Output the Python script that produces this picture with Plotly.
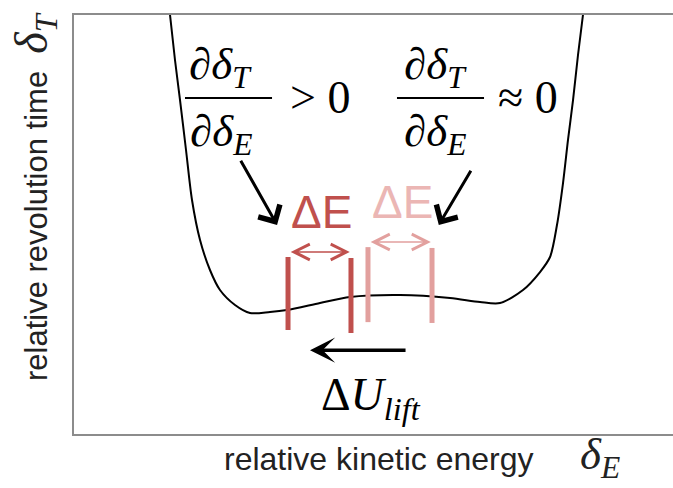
import plotly.graph_objects as go

# Curve: relative kinetic energy vs relative revolution time (arbitrary units 0-100)
curve_x = [16.03, 16.86, 17.70, 18.70, 19.70, 21.04, 22.70, 24.37, 26.88, 29.38, 32.72,
           35.56, 41.07, 46.08, 54.42, 62.77, 67.78, 71.12, 74.96, 77.80, 79.47, 80.63,
           81.64, 82.47, 83.31, 84.14, 84.97]
curve_y = [100.0, 89.26, 79.71, 67.78, 55.85, 46.30, 39.14, 34.37, 30.79, 28.88, 29.12,
           29.59, 31.26, 32.70, 33.17, 32.46, 31.50, 31.26, 34.37, 38.66, 42.24, 49.88,
           59.90, 70.17, 79.71, 90.45, 100.0]

# Energy window markers (dark = before lift, light = after)
dark_bar_x = [35.73, 46.24]
dark_bar_y0 = [24.82, 24.10]
dark_bar_y1 = [42.24, 42.00]
light_bar_x = [49.08, 59.77]
light_bar_y0 = [26.70, 26.50]
light_bar_y1 = [44.60, 44.40]

DARK = "#c0504d"
LIGHT = "#e2a09e"
LIGHT_TXT = "#ebb6b4"
SERIF = "Liberation Serif, Times New Roman, serif"
SANS = "Liberation Sans, Arial, sans-serif"

fig = go.Figure()

fig.add_trace(go.Scatter(x=curve_x, y=curve_y, mode="lines",
                         line=dict(color="black", width=2, shape="spline", smoothing=0.8),
                         hoverinfo="skip", showlegend=False))

for xs, y0s, y1s, col in [(dark_bar_x, dark_bar_y0, dark_bar_y1, DARK),
                          (light_bar_x, light_bar_y0, light_bar_y1, LIGHT)]:
    for x, a, b in zip(xs, y0s, y1s):
        fig.add_trace(go.Scatter(x=[x, x], y=[a, b], mode="lines",
                                 line=dict(color=col, width=5),
                                 hoverinfo="skip", showlegend=False))

ann = []

def arrow(x, y, ax, ay, color, width, head, size, side="end"):
    ann.append(dict(x=x, y=y, ax=ax, ay=ay, xref="x", yref="y", axref="x", ayref="y",
                    text="", showarrow=True, arrowhead=head, startarrowhead=head,
                    arrowsize=size, startarrowsize=size, arrowwidth=width,
                    arrowcolor=color, arrowside=side))

# double-headed Delta E arrows
arrow(dark_bar_x[1] - 0.2, 43.44, dark_bar_x[0] + 0.2, 43.44, DARK, 1.4, 5, 2.2, "end+start")
arrow(light_bar_x[1] - 0.2, 45.82, light_bar_x[0] + 0.2, 45.82, LIGHT, 1.4, 5, 2.2, "end+start")

# black pointer arrows
arrow(33.9, 49.9, 27.7, 65.6, "black", 3, 4, 1.6)
arrow(60.9, 49.9, 66.4, 63.2, "black", 3, 4, 1.6)
# Delta U lift arrow
arrow(39.4, 20.0, 55.6, 20.0, "black", 3.5, 3, 1.2)

def txt(x, y, s, size, color="black", font=SERIF, xref="x", yref="y", angle=0):
    ann.append(dict(x=x, y=y, xref=xref, yref=yref, text=s, showarrow=False,
                    font=dict(size=size, color=color, family=font),
                    xanchor="center", yanchor="middle", textangle=angle))

txt(41.3, 53.0, "ΔE", 46, DARK, SANS)
txt(54.8, 55.3, "ΔE", 46, LIGHT_TXT, SANS)

# fractions
txt(24.5, 87.6, "∂<i>δ</i><sub><i>T</i></sub>", 45)
txt(24.5, 71.6, "∂<i>δ</i><sub><i>E</i></sub>", 45)
txt(41.0, 80.2, "> 0", 46)
txt(60.3, 87.6, "∂<i>δ</i><sub><i>T</i></sub>", 45)
txt(60.3, 71.6, "∂<i>δ</i><sub><i>E</i></sub>", 45)
txt(75.8, 80.2, "≈ 0", 46)

txt(49.6, 8.5, "Δ<i>U</i><sub><i>lift</i></sub>", 46)

# axis titles
txt((378 - 74) / 599, (434 - 459) / 419, "relative kinetic energy", 32, "#222", SANS, "paper", "paper")
txt((600 - 74) / 599, (434 - 457) / 419, "<i>δ</i><sub><i>E</i></sub>", 45, "#222", SERIF, "paper", "paper")
ytitle = ("relative revolution time  "
          "<span style='font-family:Liberation Serif, Times New Roman, serif;font-size:46px'>"
          "<i>δ</i><sub><i>T</i></sub></span>")
txt((35 - 74) / 599, (434 - 197) / 419, ytitle, 31, "#222", SANS, "paper", "paper", -90)

fig.update_layout(annotations=ann)

fig.add_shape(type="line", xref="x", yref="y", x0=18.53, x1=33.06, y0=80.19, y1=80.19,
              line=dict(color="black", width=2))
fig.add_shape(type="line", xref="x", yref="y", x0=53.92, x1=68.45, y0=80.19, y1=80.19,
              line=dict(color="black", width=2))

fig.update_xaxes(range=[0, 100], showline=True, mirror=True, linecolor="#8c8c8c", linewidth=1.5,
                 showgrid=False, zeroline=False, showticklabels=False, ticks="")
fig.update_yaxes(range=[0, 100], showline=True, mirror=False, linecolor="#8c8c8c", linewidth=1.5,
                 showgrid=False, zeroline=False, showticklabels=False, ticks="")

fig.update_layout(width=673, height=488, margin=dict(l=74, r=0, t=15, b=54),
                  plot_bgcolor="white", paper_bgcolor="white", showlegend=False)

fig.write_html("out.html")
